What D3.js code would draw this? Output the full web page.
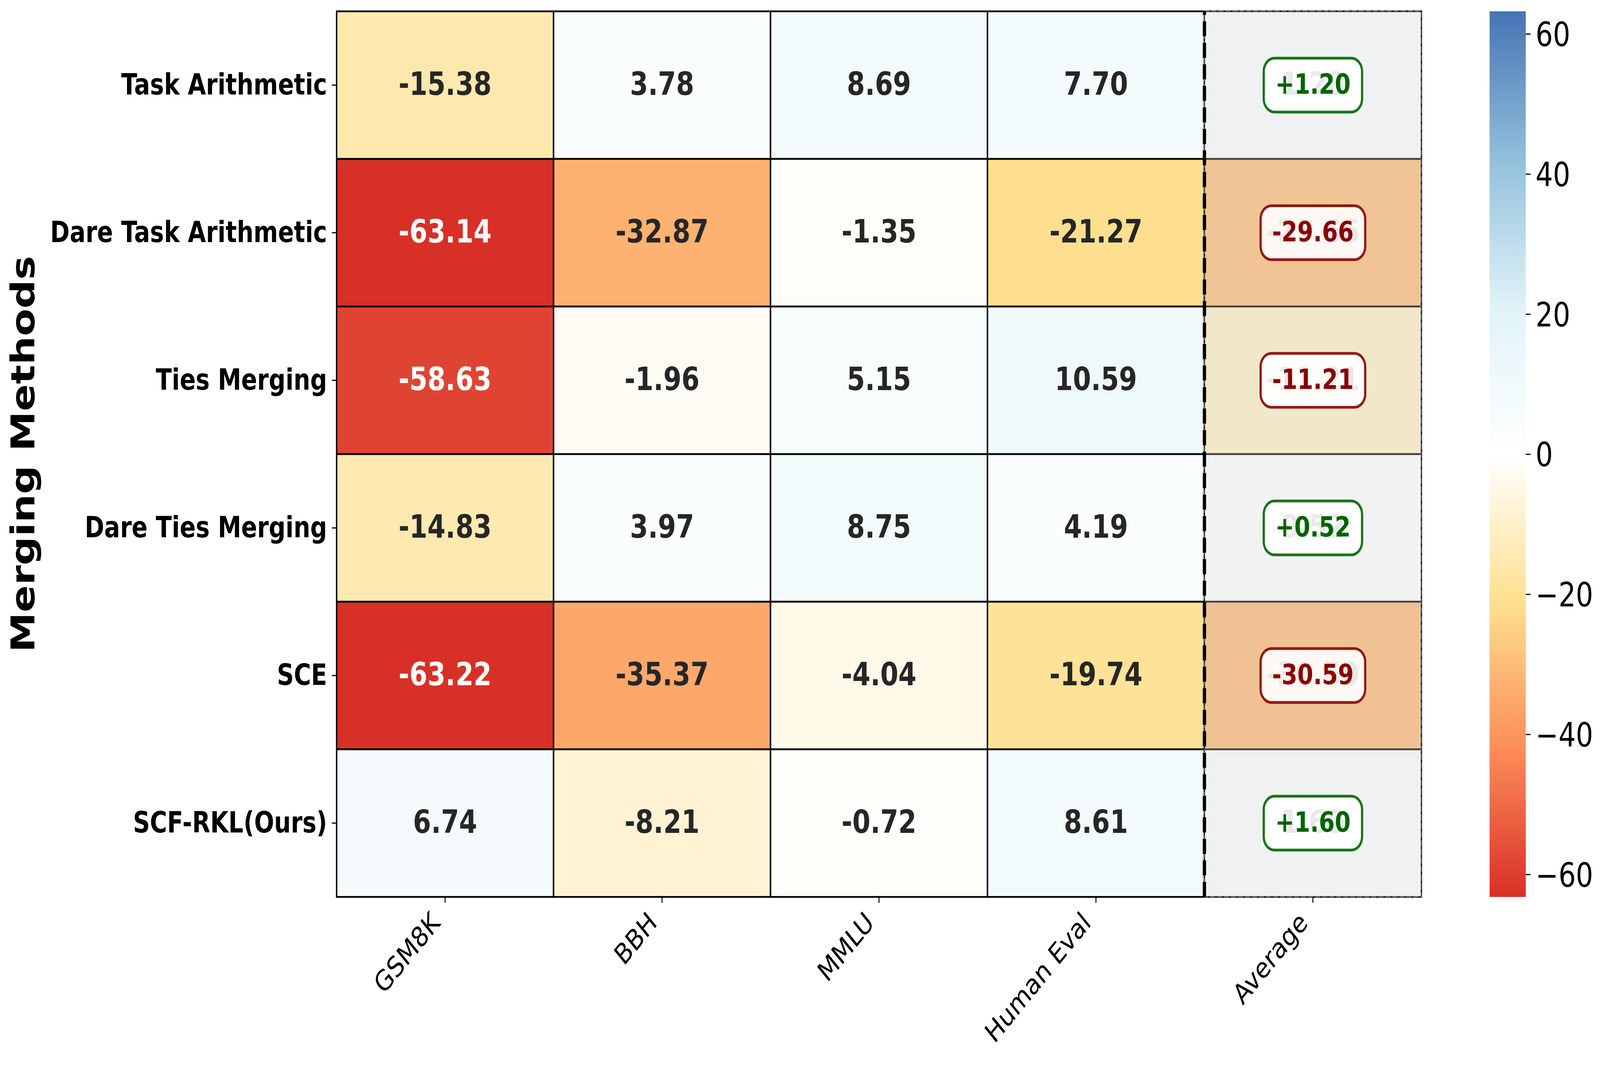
<!DOCTYPE html>
<html lang="en">

<head>
    <meta charset="UTF-8">
    <title>Merging Methods Heatmap</title>
    <style>
        html,
        body {
            margin: 0;
            padding: 0;
            background: #ffffff;
            overflow: hidden;
        }

        svg {
            display: block;
            width: 100vw;
            height: 100vh;
            font-family: "DejaVu Sans", sans-serif;
        }
    </style>
</head>

<body>
    <svg id="chart" viewBox="0 0 5043 2730" preserveAspectRatio="none"></svg>

    <script src="https://d3js.org/d3.v7.min.js"></script>
    <script>
        // ---- data ----
        const methods = [
            "Task Arithmetic",
            "Dare Task Arithmetic",
            "Ties Merging",
            "Dare Ties Merging",
            "SCE",
            "SCF-RKL(Ours)"
        ];
        const benchmarks = ["GSM8K", "BBH", "MMLU", "Human Eval"];
        const gsm8k = [-15.38, -63.14, -58.63, -14.83, -63.22, 6.74];
        const bbh = [3.78, -32.87, -1.96, 3.97, -35.37, -8.21];
        const mmlu = [8.69, -1.35, 5.15, 8.75, -4.04, -0.72];
        const humanEval = [7.70, -21.27, 10.59, 4.19, -19.74, 8.61];
        const average = [1.20, -29.66, -11.21, 0.52, -30.59, 1.60];
        const colorbarTicks = [60, 40, 20, 0, -20, -40, -60];

        const columns = [...benchmarks, "Average"];
        const seriesByColumn = [gsm8k, bbh, mmlu, humanEval, average];

        // colormap (red -> yellow -> white -> blue)
        const cmapColors = ["#d73027", "#fc8d59", "#fee090", "#ffffff", "#e0f3f8", "#91bfdb", "#4575b4"];

        const svg = d3.select("#chart");

        // plot area
        const plotLeft = 1061, plotRight = 4480, plotTop = 29, plotBottom = 2297;
        const cbLeft = 4695, cbWidth = 114;

        const x = d3.scaleBand().domain(columns).range([plotLeft, plotRight]);
        const y = d3.scaleBand().domain(methods).range([plotTop, plotBottom]);

        const vmax = d3.max(seriesByColumn.flat(), d => Math.abs(d));
        const color = d3.scaleLinear()
            .domain(cmapColors.map((c, i) => -vmax + i * vmax / 3))
            .range(cmapColors)
            .interpolate(d3.interpolateRgb);

        // flatten into cells
        const cells = [];
        columns.forEach((col, ci) => {
            methods.forEach((m, ri) => {
                cells.push({ col, method: m, value: seriesByColumn[ci][ri] });
            });
        });

        function textColor(c) {
            const rgb = d3.rgb(c);
            const lin = v => {
                v = v / 255;
                return v <= 0.03928 ? v / 12.92 : Math.pow((v + 0.055) / 1.055, 2.4);
            };
            const lum = 0.2126 * lin(rgb.r) + 0.7152 * lin(rgb.g) + 0.0722 * lin(rgb.b);
            return lum > 0.408 ? "#262626" : "#ffffff";
        }

        // cells
        svg.append("g")
            .selectAll("rect")
            .data(cells)
            .join("rect")
            .attr("x", d => x(d.col))
            .attr("y", d => y(d.method))
            .attr("width", x.bandwidth())
            .attr("height", y.bandwidth())
            .attr("fill", d => color(d.value))
            .attr("stroke", "#000")
            .attr("stroke-width", 4.5);

        // grey overlay on the Average column
        svg.append("rect")
            .attr("x", x("Average"))
            .attr("y", plotTop)
            .attr("width", x.bandwidth())
            .attr("height", plotBottom - plotTop)
            .attr("fill", "#d3d3d3")
            .attr("fill-opacity", 0.3)
            .attr("stroke", "#808080")
            .attr("stroke-opacity", 0.6)
            .attr("stroke-width", 4.2)
            .attr("stroke-dasharray", "15.4 6.7");

        // annotations
        const annSize = 82;
        svg.append("g")
            .selectAll("text")
            .data(cells)
            .join("text")
            .attr("x", d => x(d.col) + x.bandwidth() / 2)
            .attr("y", d => y(d.method) + y.bandwidth() / 2 + 0.3 * annSize)
            .attr("text-anchor", "middle")
            .attr("font-size", annSize)
            .attr("font-weight", "bold")
            .attr("fill", d => textColor(color(d.value)))
            .text(d => d.value.toFixed(2));

        // badges for Average column
        const badgeSize = 72;
        const badges = svg.append("g")
            .selectAll("g")
            .data(cells.filter(d => d.col === "Average"))
            .join("g")
            .attr("transform", d => `translate(${x(d.col) + x.bandwidth() / 2},${y(d.method) + y.bandwidth() / 2})`);

        badges.each(function (d) {
            const g = d3.select(this);
            const pos = d.value >= 0;
            const main = pos ? "#006400" : "#8b0000";
            const box = g.append("rect");
            const t = g.append("text")
                .attr("x", 0)
                .attr("y", 0.3 * badgeSize)
                .attr("text-anchor", "middle")
                .attr("font-size", badgeSize)
                .attr("font-weight", "bold")
                .attr("fill", main)
                .text((pos ? "+" : "") + d.value.toFixed(2));
            const w = t.node().getComputedTextLength() + 2 * 36;
            const h = 0.97 * badgeSize + 2 * 34;
            box.attr("x", -w / 2)
                .attr("y", -h / 2)
                .attr("width", w)
                .attr("height", h)
                .attr("rx", 34)
                .attr("fill", "#ffffff")
                .attr("fill-opacity", 0.9)
                .attr("stroke", main)
                .attr("stroke-opacity", 0.9)
                .attr("stroke-width", 7);
        });

        // dashed separator before the Average column
        svg.append("line")
            .attr("x1", x("Average"))
            .attr("x2", x("Average"))
            .attr("y1", plotBottom)
            .attr("y2", plotTop)
            .attr("stroke", "#000")
            .attr("stroke-width", 10.4)
            .attr("stroke-dasharray", "38.5 16.6");

        // x axis
        const xAxis = svg.append("g")
            .attr("transform", `translate(0,${plotBottom})`)
            .call(d3.axisBottom(x).tickSize(15).tickSizeOuter(0));
        xAxis.select(".domain").remove();
        xAxis.selectAll(".tick line").attr("stroke", "#000").attr("stroke-width", 3);
        xAxis.selectAll(".tick text")
            .attr("x", 0)
            .attr("y", 0)
            .attr("dy", null)
            .attr("transform", "translate(-12,70) rotate(-45)")
            .attr("text-anchor", "end")
            .attr("font-size", 72)
            .attr("font-family", "DejaVu Sans")
            .attr("fill", "#000");

        // y axis
        const yAxis = svg.append("g")
            .attr("transform", `translate(${plotLeft},0)`)
            .call(d3.axisLeft(y).tickSize(15).tickPadding(15).tickSizeOuter(0));
        yAxis.select(".domain").remove();
        yAxis.selectAll(".tick line").attr("stroke", "#000").attr("stroke-width", 3);
        yAxis.selectAll(".tick text")
            .attr("font-size", 74)
            .attr("font-weight", "bold")
            .attr("font-family", "DejaVu Sans")
            .attr("fill", "#000");

        // y axis title
        svg.append("text")
            .attr("transform", `translate(108,${(plotTop + plotBottom) / 2}) rotate(-90)`)
            .attr("text-anchor", "middle")
            .attr("font-size", 103)
            .attr("font-weight", "bold")
            .attr("fill", "#000")
            .text("Merging Methods");

        // colorbar
        const defs = svg.append("defs");
        const grad = defs.append("linearGradient")
            .attr("id", "cbGrad")
            .attr("x1", 0).attr("y1", 0)
            .attr("x2", 0).attr("y2", 1);
        grad.selectAll("stop")
            .data(cmapColors.slice().reverse())
            .join("stop")
            .attr("offset", (d, i) => i / (cmapColors.length - 1))
            .attr("stop-color", d => d);

        svg.append("rect")
            .attr("x", cbLeft)
            .attr("y", plotTop)
            .attr("width", cbWidth)
            .attr("height", plotBottom - plotTop)
            .attr("fill", "url(#cbGrad)");

        const cbScale = d3.scaleLinear().domain([-vmax, vmax]).range([plotBottom, plotTop]);
        const cbAxis = svg.append("g")
            .attr("transform", `translate(${cbLeft + cbWidth},0)`)
            .call(d3.axisRight(cbScale).tickValues(colorbarTicks).tickSize(15).tickPadding(16)
                .tickFormat(d => d < 0 ? "\u2212" + Math.abs(d) : String(d)));
        cbAxis.select(".domain").remove();
        cbAxis.selectAll(".tick line").attr("stroke", "#000").attr("stroke-width", 3);
        cbAxis.selectAll(".tick text")
            .attr("dy", "0.36em")
            .attr("font-size", 86)
            .attr("font-family", "DejaVu Sans")
            .attr("fill", "#000");
    </script>

</body>

</html>
